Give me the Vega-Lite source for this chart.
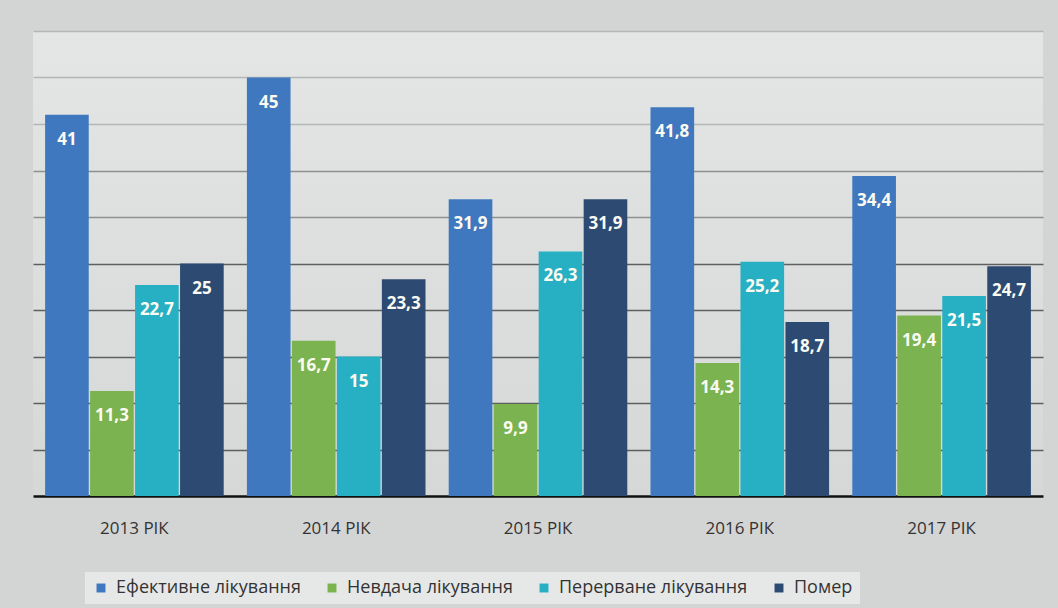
{
  "$schema": "https://vega.github.io/schema/vega-lite/v6.json",
  "width": 1010,
  "height": 465,
  "autosize": {"type": "none"},
  "padding": {"left": 33, "top": 31, "right": 15, "bottom": 112},
  "background": "#d3d5d5",
  "config": {
    "view": {"stroke": null},
    "font": "Open Sans"
  },
  "view": {
    "fill": {
      "gradient": "linear", "x1": 0, "y1": 0, "x2": 0, "y2": 1,
      "stops": [{"offset": 0, "color": "#e4e6e6"}, {"offset": 1, "color": "#d6d8d8"}]
    },
    "stroke": null
  },
  "data": {
    "values": [
      {"year": "2013 РІК", "series": "Ефективне лікування", "value": 41, "label": "41"},
      {"year": "2013 РІК", "series": "Невдача лікування", "value": 11.3, "label": "11,3"},
      {"year": "2013 РІК", "series": "Перерване лікування", "value": 22.7, "label": "22,7"},
      {"year": "2013 РІК", "series": "Помер", "value": 25, "label": "25"},
      {"year": "2014 РІК", "series": "Ефективне лікування", "value": 45, "label": "45"},
      {"year": "2014 РІК", "series": "Невдача лікування", "value": 16.7, "label": "16,7"},
      {"year": "2014 РІК", "series": "Перерване лікування", "value": 15, "label": "15"},
      {"year": "2014 РІК", "series": "Помер", "value": 23.3, "label": "23,3"},
      {"year": "2015 РІК", "series": "Ефективне лікування", "value": 31.9, "label": "31,9"},
      {"year": "2015 РІК", "series": "Невдача лікування", "value": 9.9, "label": "9,9"},
      {"year": "2015 РІК", "series": "Перерване лікування", "value": 26.3, "label": "26,3"},
      {"year": "2015 РІК", "series": "Помер", "value": 31.9, "label": "31,9"},
      {"year": "2016 РІК", "series": "Ефективне лікування", "value": 41.8, "label": "41,8"},
      {"year": "2016 РІК", "series": "Невдача лікування", "value": 14.3, "label": "14,3"},
      {"year": "2016 РІК", "series": "Перерване лікування", "value": 25.2, "label": "25,2"},
      {"year": "2016 РІК", "series": "Помер", "value": 18.7, "label": "18,7"},
      {"year": "2017 РІК", "series": "Ефективне лікування", "value": 34.4, "label": "34,4"},
      {"year": "2017 РІК", "series": "Невдача лікування", "value": 19.4, "label": "19,4"},
      {"year": "2017 РІК", "series": "Перерване лікування", "value": 21.5, "label": "21,5"},
      {"year": "2017 РІК", "series": "Помер", "value": 24.7, "label": "24,7"}
    ]
  },
  "encoding": {
    "x": {
      "field": "year", "type": "nominal", "title": null,
      "scale": {"paddingInner": 0.115, "paddingOuter": 0.06},
      "axis": {
        "labelAngle": 0, "labelFontSize": 17, "labelColor": "#333333",
        "labelPadding": 24, "ticks": false,
        "domainColor": "#111111", "domainWidth": 2.5
      }
    },
    "xOffset": {
      "field": "series", "type": "nominal",
      "sort": ["Ефективне лікування", "Невдача лікування", "Перерване лікування", "Помер"],
      "scale": {"paddingInner": 0.03}
    },
    "y": {
      "field": "value", "type": "quantitative", "title": null,
      "scale": {"domain": [0, 50], "nice": false},
      "axis": {
        "values": [5, 10, 15, 20, 25, 30, 35, 40, 45, 50],
        "labels": false, "ticks": false, "domain": false,
        "gridColor": {
          "condition": [
            {"test": "datum.value >= 40", "value": "#b4b6b6"},
            {"test": "datum.value >= 30", "value": "#8e9090"}
          ],
          "value": "#5e6060"
        },
        "gridWidth": 1.5
      }
    }
  },
  "layer": [
    {
      "mark": {"type": "bar"},
      "encoding": {
        "color": {
          "field": "series", "type": "nominal",
          "sort": ["Ефективне лікування", "Невдача лікування", "Перерване лікування", "Помер"],
          "scale": {
            "domain": ["Ефективне лікування", "Невдача лікування", "Перерване лікування", "Помер"],
            "range": ["#3f78be", "#7ab34f", "#27afc4", "#2c4a72"]
          },
          "legend": {
            "title": null, "orient": "none", "direction": "horizontal",
            "legendX": 52, "legendY": 541,
            "symbolType": "square", "symbolSize": 80, "symbolStrokeWidth": 0,
            "labelFontSize": 18, "labelColor": "#333333", "labelLimit": 300,
            "columnPadding": 22, "labelOffset": 6,
            "fillColor": "#e6e8e8", "padding": 7
          }
        }
      }
    },
    {
      "mark": {
        "type": "text", "color": "#fbfbf2", "fontSize": 17, "fontWeight": "bold",
        "baseline": "middle", "dy": 25
      },
      "encoding": {
        "text": {"field": "label"}
      }
    }
  ]
}
